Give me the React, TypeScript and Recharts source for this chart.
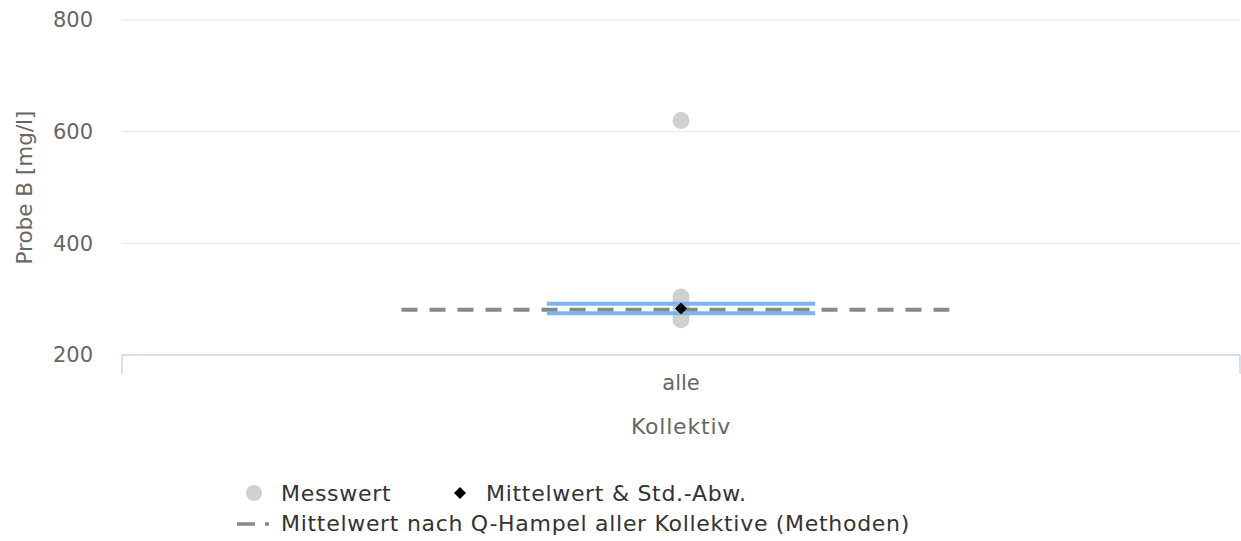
import { ComposedChart, Scatter, XAxis, YAxis, CartesianGrid, ErrorBar, Label } from 'recharts';

// Kollektive (categories on the x axis)
const CATEGORIES = ['alle'];
// single measurements, Probe B [mg/l]
const MESSWERTE = [620, 304, 297, 290, 285, 280, 275, 269, 263];
// mean & standard deviation of the collective
const MITTELWERT = [283.5];
const STD_ABW = [8.5];
// Q-Hampel mean of all collectives (methods)
const HAMPEL = 281;
const Y_TICKS = [200, 400, 600, 800];

const FONT = '"DejaVu Sans", Verdana, sans-serif';
const COLORS = {
  point: '#d0d0d0',
  mean: '#000000',
  std: '#7cb5ec',
  hampel: '#888888',
  grid: '#e6e6e6',
  axis: '#ccd6eb',
  label: '#666666',
  legend: '#333333',
};

// x position of category i on a numeric axis [0, n]
const center = (i: number) => i + 0.5;

const pointData = MESSWERTE.map((v) => ({ x: center(0), y: v }));
const meanData = MITTELWERT.map((m, i) => ({ x: center(i), y: m, err: STD_ABW[i] }));
const stdUpper = MITTELWERT.flatMap((m, i) => [
  { x: center(i) - 0.12, y: m + STD_ABW[i] },
  { x: center(i) + 0.12, y: m + STD_ABW[i] },
]);
const stdLower = MITTELWERT.flatMap((m, i) => [
  { x: center(i) - 0.12, y: m - STD_ABW[i] },
  { x: center(i) + 0.12, y: m - STD_ABW[i] },
]);
const hampelData = [
  { x: 0.25, y: HAMPEL },
  { x: 0.74, y: HAMPEL },
];

const xTicks = [0, ...CATEGORIES.map((_, i) => center(i)), CATEGORIES.length];

const XTick = (props: any) => {
  const { x, y, payload } = props;
  const v = payload.value;
  if (Number.isInteger(v)) {
    return <line x1={x} x2={x} y1={y} y2={y + 19} stroke={COLORS.axis} strokeWidth={1.5} />;
  }
  return (
    <text x={x} y={y + 28} textAnchor="middle" dominantBaseline="central" fill={COLORS.label} fontSize={21} fontFamily={FONT}>
      {CATEGORIES[Math.floor(v)]}
    </text>
  );
};

const Dot = (props: any) => <circle cx={props.cx} cy={props.cy} r={8.5} fill={COLORS.point} />;
const Diamond = (props: any) => {
  const { cx, cy } = props;
  const s = 6;
  return <polygon points={`${cx},${cy - s} ${cx + s},${cy} ${cx},${cy + s} ${cx - s},${cy}`} fill={COLORS.mean} />;
};
const NoShape = () => <g />;

const legendText = { fill: COLORS.legend, fontSize: 22, fontFamily: FONT, letterSpacing: 0.7 };

export default function App() {
  return (
    <div style={{ position: 'absolute', left: 0, top: 0, width: 1241, height: 541, background: '#fff' }}>
      <ComposedChart width={1241} height={541} margin={{ top: 20, right: 1, bottom: 96, left: 0 }}>
        <CartesianGrid vertical={false} stroke={COLORS.grid} strokeWidth={1} />
        <XAxis
          type="number"
          dataKey="x"
          domain={[0, CATEGORIES.length]}
          ticks={xTicks}
          interval={0}
          height={90}
          tickSize={0}
          tickMargin={0}
          tickLine={false}
          axisLine={{ stroke: COLORS.axis, strokeWidth: 1.5 }}
          tick={<XTick />}
        >
          <Label
            value="Kollektiv"
            position="insideBottom"
            offset={11}
            fill={COLORS.label}
            fontSize={22}
            fontFamily={FONT}
            style={{ letterSpacing: 0.8 }}
          />
        </XAxis>
        <YAxis
          type="number"
          dataKey="y"
          domain={[200, 800]}
          ticks={Y_TICKS}
          width={122}
          tickSize={0}
          tickMargin={29}
          tickLine={false}
          axisLine={false}
          tick={{ fill: COLORS.label, fontSize: 21, fontFamily: FONT }}
        >
          <Label
            value="Probe B [mg/l]"
            angle={-90}
            position="insideLeft"
            offset={24}
            fill={COLORS.label}
            fontSize={21.5}
            fontFamily={FONT}
            style={{ textAnchor: 'middle' }}
          />
        </YAxis>

        <Scatter data={pointData} shape={<Dot />} isAnimationActive={false} />
        <Scatter
          data={hampelData}
          shape={<NoShape />}
          line={{ stroke: COLORS.hampel, strokeWidth: 4, strokeDasharray: '16 12' }}
          isAnimationActive={false}
        />
        <Scatter data={stdUpper} shape={<NoShape />} line={{ stroke: COLORS.std, strokeWidth: 4 }} isAnimationActive={false} />
        <Scatter data={stdLower} shape={<NoShape />} line={{ stroke: COLORS.std, strokeWidth: 4 }} isAnimationActive={false} />
        <Scatter data={meanData} shape={<Diamond />} isAnimationActive={false}>
          <ErrorBar dataKey="err" direction="y" width={4} stroke={COLORS.mean} strokeWidth={1} />
        </Scatter>
      </ComposedChart>

      {/* Legend */}
      <svg width={1241} height={80} style={{ position: 'absolute', left: 0, top: 470 }}>
        <circle cx={254} cy={23} r={8} fill={COLORS.point} />
        <text x={281} y={23} dominantBaseline="central" {...legendText}>
          Messwert
        </text>
        <polygon points="460,17 466,23 460,29 454,23" fill={COLORS.mean} />
        <text x={486} y={23} dominantBaseline="central" {...legendText}>
          Mittelwert &amp; Std.-Abw.
        </text>
        <line x1={237} x2={269} y1={54} y2={54} stroke={COLORS.hampel} strokeWidth={3.5} strokeDasharray="18 10" />
        <text x={281} y={53} dominantBaseline="central" {...legendText}>
          Mittelwert nach Q-Hampel aller Kollektive (Methoden)
        </text>
      </svg>
    </div>
  );
}
